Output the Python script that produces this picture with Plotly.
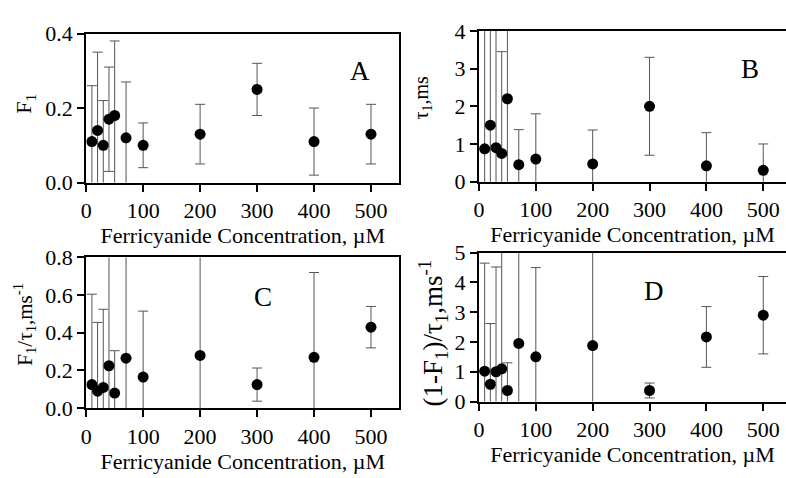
import plotly.graph_objects as go

# ---------------- data ----------------
conc = [10, 20, 30, 40, 50, 70, 100, 200, 300, 400, 500]

F1 = [0.11, 0.14, 0.10, 0.17, 0.18, 0.12, 0.10, 0.13, 0.25, 0.11, 0.13]
F1_err = [0.15, 0.21, 0.12, 0.14, 0.20, 0.15, 0.06, 0.08, 0.07, 0.09, 0.08]

tau1 = [0.87, 1.50, 0.90, 0.75, 2.20, 0.45, 0.60, 0.47, 2.00, 0.42, 0.30]
tau1_err = [4.0, 3.0, 3.5, 2.70, 2.5, 0.93, 1.20, 0.90, 1.30, 0.88, 0.70]

F1_over_tau = [0.125, 0.09, 0.11, 0.225, 0.08, 0.265, 0.165, 0.28, 0.125, 0.27, 0.43]
F1_over_tau_err = [0.48, 0.365, 0.415, 0.70, 0.225, 0.60, 0.35, 0.60, 0.088, 0.45, 0.11]

oneminus_over_tau = [1.02, 0.58, 1.00, 1.10, 0.37, 1.95, 1.50, 1.88, 0.37, 2.17, 2.90]
oneminus_over_tau_err = [3.63, 2.04, 3.52, 4.5, 0.93, 3.5, 3.0, 3.5, 0.25, 1.02, 1.30]

x_ticks = [0, 100, 200, 300, 400, 500]
x_title = "Ferricyanide Concentration, \u00b5M"

panels = [
    dict(y=F1, e=F1_err, yticks=[0.0, 0.2, 0.4], yrange=[0, 0.4], fmt=".1f",
         ytitle="F<sub>1</sub>", letter="A"),
    dict(y=tau1, e=tau1_err, yticks=[0, 1, 2, 3, 4], yrange=[0, 4], fmt="d",
         ytitle="\u03c4<sub>1</sub>,ms", letter="B"),
    dict(y=F1_over_tau, e=F1_over_tau_err, yticks=[0.0, 0.2, 0.4, 0.6, 0.8], yrange=[0, 0.8], fmt=".1f",
         ytitle="F<sub>1</sub>/\u03c4<sub>1</sub>,ms<sup>-1</sup>", letter="C"),
    dict(y=oneminus_over_tau, e=oneminus_over_tau_err, yticks=[0, 1, 2, 3, 4, 5], yrange=[0, 5], fmt="d",
         ytitle="(1-F<sub>1</sub>)/\u03c4<sub>1</sub>,ms<sup>-1</sup>", letter="D"),
]

# ---------------- layout geometry (pixels) ----------------
W, H = 786, 478
# [x0, x1, ytop, ybottom, xmax, mirror_y, ytitle_x, ytitle_y, ytitle_size, letter_x, letter_y]
geom = [
    (81.7, 397, 22.7, 180, 550, True, 20, 97, 22, 357, 62),
    (477, 786, 20, 179, 540, False, 420, 90, 20, 750, 60),
    (81.7, 397, 259, 418, 550, True, 20, 329, 21, 260, 301),
    (477, 786, 254, 411, 540, False, 431, 339, 27, 653, 294),
]

FONT = "Liberation Serif"

fig = go.Figure()
annotations = []
layout = {}
for i, (p, g) in enumerate(zip(panels, geom)):
    n = i + 1
    x0, x1, yt, yb, xmax, mirror_y, tx, ty, ts, lx, ly = g
    xa = "x" if n == 1 else f"x{n}"
    ya = "y" if n == 1 else f"y{n}"
    fig.add_trace(go.Scatter(
        x=conc, y=p["y"], mode="markers", xaxis=xa, yaxis=ya,
        marker=dict(color="black", size=11),
        error_y=dict(type="data", array=p["e"], symmetric=True,
                     color="#555555", thickness=1, width=5),
        showlegend=False,
    ))
    layout[f"xaxis{'' if n == 1 else n}"] = dict(
        domain=[x0 / W, x1 / W], anchor=ya, range=[0, xmax],
        tickvals=x_ticks, ticks="outside", ticklen=7, tickwidth=2, tickcolor="black",
        showline=True, linewidth=2, linecolor="black", mirror=True,
        showgrid=False, zeroline=False,
        tickfont=dict(family=FONT, size=22, color="black"),
        title=dict(text=x_title, font=dict(family=FONT, size=22, color="black"), standoff=2),
    )
    layout[f"yaxis{'' if n == 1 else n}"] = dict(
        domain=[1 - yb / H, 1 - yt / H], anchor=xa, range=p["yrange"],
        tickvals=p["yticks"], tickformat=p["fmt"],
        ticks="outside", ticklen=7, tickwidth=2, tickcolor="black",
        showline=True, linewidth=2, linecolor="black", mirror=mirror_y,
        showgrid=False, zeroline=False,
        tickfont=dict(family=FONT, size=22, color="black"),
    )
    annotations.append(dict(
        x=tx / W, y=1 - ty / H, xref="paper", yref="paper", text=p["ytitle"],
        textangle=-90, showarrow=False, xanchor="center", yanchor="middle",
        font=dict(family=FONT, size=ts, color="black"),
    ))
    annotations.append(dict(
        x=lx / W, y=1 - ly / H, xref="paper", yref="paper", text=p["letter"],
        showarrow=False, xanchor="center", yanchor="middle",
        font=dict(family=FONT, size=27, color="black"),
    ))

fig.update_layout(
    width=W, height=H, margin=dict(l=0, r=0, t=0, b=0),
    paper_bgcolor="white", plot_bgcolor="white",
    font=dict(family=FONT, color="black"),
    annotations=annotations, **layout,
)

fig.write_html("out.html", config={"displayModeBar": False},
               post_script="document.body.style.margin='0px';")
